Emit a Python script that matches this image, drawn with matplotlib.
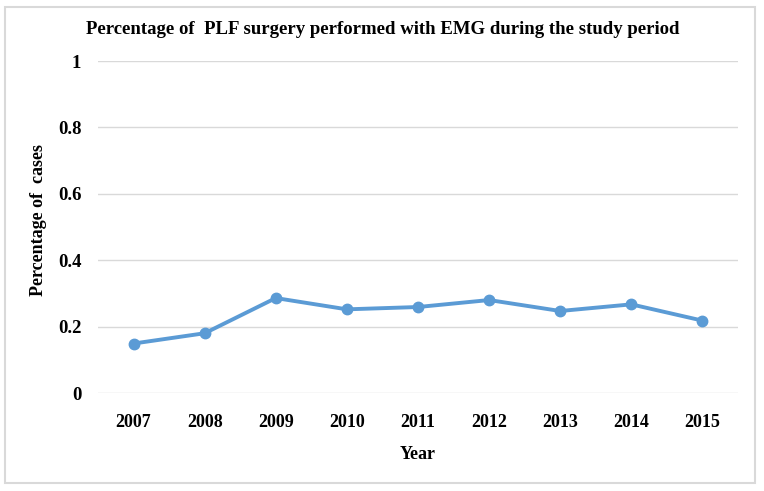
import matplotlib.pyplot as plt
from matplotlib.patches import Rectangle

years = ['2007', '2008', '2009', '2010', '2011', '2012', '2013', '2014', '2015']
share = [0.149, 0.180, 0.286, 0.252, 0.259, 0.280, 0.247, 0.267, 0.218]
yticks = [0, 0.2, 0.4, 0.6, 0.8, 1]
ytick_labels = ['0', '0.2', '0.4', '0.6', '0.8', '1']

plt.rcParams['font.family'] = ['Liberation Serif', 'DejaVu Serif']

W, H = 764, 491
fig = plt.figure(figsize=(W / 100, H / 100), dpi=100)
ax = fig.add_axes([98 / W, 1 - 393 / H, 640 / W, 332 / H])

x = list(range(len(years)))
ax.plot(x, share, color='#5B9BD5', lw=2.8, marker='o', ms=7.5, zorder=3)

ax.set_xlim(-0.5, len(years) - 0.5)
ax.set_ylim(0, 1)
ax.set_xticks(x)
ax.set_xticklabels(years, fontsize=13, fontweight='bold')
ax.set_yticks(yticks)
ax.set_yticklabels(ytick_labels, fontsize=13.5, fontweight='bold')
ax.tick_params(length=0)
ax.tick_params(axis='x', pad=15)
ax.tick_params(axis='y', pad=12)
ax.grid(axis='y', color='#D9D9D9', lw=1)
ax.set_axisbelow(True)
for s in ax.spines.values():
    s.set_visible(False)

ax.set_xlabel('Year', fontsize=13, fontweight='bold', labelpad=11)
ax.set_ylabel('Percentage of  cases', fontsize=13, fontweight='bold')
ax.yaxis.set_label_coords(-0.079, 0.52)
fig.text(383 / W, 1 - 30 / H, 'Percentage of  PLF surgery performed with EMG during the study period',
         ha='center', va='center', fontsize=13.5, fontweight='bold')

# outer chart border
fig.patches.append(Rectangle((5 / W, 1 - 483 / H), 750 / W, 476 / H, transform=fig.transFigure,
                             fill=False, ec='#D9D9D9', lw=1.5))

fig.savefig('out.png', dpi=100)
